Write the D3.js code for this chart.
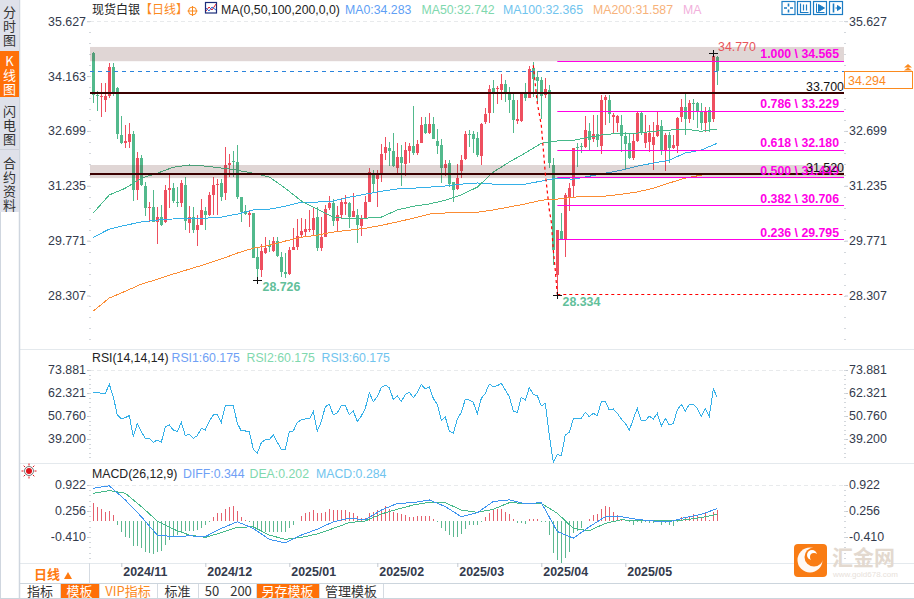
<!DOCTYPE html>
<html>
<head>
<meta charset="utf-8">
<script src="https://cdnjs.cloudflare.com/ajax/libs/d3/7.8.5/d3.min.js"></script>
<style>
  html, body { margin: 0; padding: 0; background: #fff; }
  svg { display: block; }
  text { font-family: "Liberation Sans", Arial, sans-serif; }
  .cjk { font-family: "Noto Sans CJK SC", sans-serif; }
  .tab { writing-mode: vertical-rl; text-orientation: upright; letter-spacing: 1px; }
</style>
</head>
<body>
<svg id="chart" width="914" height="599"></svg>
<script>
// daily candles, oldest first
const opens = [
  34.78,33.65,33.60,33.52,33.63,34.40,33.84,32.59,32.37,32.40,
  32.61,31.12,31.97,31.23,30.64,30.67,30.27,30.40,30.27,31.12,
  31.17,30.80,30.77,31.25,30.24,30.40,30.05,30.18,30.56,30.45,
  30.99,31.25,31.31,31.04,31.79,31.89,31.87,30.93,30.56,30.45,
  30.51,29.33,28.98,29.44,29.65,29.49,29.76,29.33,28.93,28.88,
  29.52,29.60,29.92,30.00,30.05,30.05,30.40,29.57,29.86,30.64,
  30.77,30.29,30.45,30.75,30.77,30.40,30.45,30.16,30.37,30.80,
  31.57,31.41,31.57,32.11,32.24,32.16,31.71,32.00,31.81,32.16,
  32.29,32.11,32.37,32.88,32.64,32.88,32.43,32.32,31.71,31.84,
  31.33,31.15,31.63,31.95,32.61,32.61,32.51,32.03,32.93,33.17,
  33.84,33.81,33.79,33.95,33.73,33.52,32.96,32.96,33.71,33.57,
  34.38,34.13,34.06,33.65,33.79,31.79,28.85,30.02,29.81,30.93,
  31.23,32.27,32.29,32.27,32.69,32.48,32.61,32.29,33.52,33.52,
  33.07,32.91,32.85,32.56,32.37,31.97,32.43,33.17,32.37,32.40,
  32.32,32.56,32.83,32.19,32.59,32.24,32.29,33.07,33.33,33.01,
  33.44,33.44,33.20,32.91,33.25,33.01,34.67
];
const closes = [
  33.65,33.63,33.63,33.63,34.40,33.73,32.61,32.37,32.43,32.61,
  31.12,31.97,31.25,30.64,30.67,30.27,30.40,30.18,31.12,31.17,
  30.83,30.77,31.31,30.29,30.40,30.05,30.18,30.59,30.45,30.99,
  31.25,31.28,30.93,31.79,31.84,31.87,30.93,30.53,30.48,30.51,
  29.30,29.01,29.49,29.57,29.60,29.76,29.36,28.93,28.88,29.52,
  29.60,29.89,30.02,30.08,30.08,30.37,29.57,29.86,30.61,30.77,
  30.29,30.45,30.80,30.80,30.40,30.56,30.18,30.37,30.80,31.60,
  31.28,31.52,32.08,32.27,32.16,31.76,32.00,31.84,32.19,32.29,
  32.11,32.35,32.85,32.64,32.88,32.48,32.29,31.71,31.81,31.28,
  31.12,31.44,31.92,32.61,32.59,32.48,32.05,32.88,33.15,33.81,
  33.73,33.84,33.95,33.71,33.52,32.99,33.01,33.71,33.57,34.35,
  34.08,34.03,33.63,33.81,31.84,29.52,30.05,29.78,30.99,31.17,
  32.24,32.24,32.27,32.72,32.45,32.61,32.45,33.52,33.60,33.15,
  33.12,33.09,32.56,32.35,31.97,32.43,33.17,32.64,32.64,32.64,
  32.53,32.85,32.19,32.59,32.24,32.32,33.04,33.33,33.01,33.44,
  33.41,33.23,32.91,33.23,32.93,34.70,34.29
];
const highs = [
  34.80,33.76,33.97,33.97,34.51,34.51,33.87,33.09,32.85,32.91,
  32.69,32.13,32.05,31.33,30.80,31.12,30.67,30.72,31.25,31.55,
  31.31,31.20,31.39,31.47,30.69,30.67,30.45,30.88,30.67,31.07,
  31.47,31.41,31.41,32.27,32.08,32.16,32.32,30.93,30.72,30.56,
  30.51,29.57,29.68,29.86,29.78,29.86,29.86,29.46,29.44,29.60,
  30.10,30.35,30.37,30.35,30.59,30.64,30.67,30.40,30.72,30.96,
  30.88,30.69,30.91,30.99,30.80,31.04,30.61,30.45,30.96,31.71,
  31.65,31.65,32.35,32.53,32.40,32.64,32.37,32.32,32.40,32.37,
  33.36,32.45,33.07,33.07,33.17,33.07,32.75,32.48,31.92,31.92,
  31.33,31.81,32.05,32.69,32.72,32.69,32.67,32.91,33.31,33.92,
  34.06,33.89,34.22,34.06,33.87,33.71,33.52,33.73,33.97,34.43,
  34.54,34.30,34.13,34.11,33.92,31.97,30.05,30.51,31.04,31.31,
  32.24,32.37,32.37,33.09,32.91,33.12,33.12,33.65,33.65,33.65,
  33.17,33.12,33.12,32.67,32.64,32.64,33.20,33.20,33.12,32.85,
  32.93,33.20,32.99,32.64,32.67,32.59,33.07,33.55,33.68,33.52,
  33.55,33.47,33.44,33.33,33.33,34.77,34.70
];
const lows = [
  33.44,33.23,33.07,33.20,33.57,33.63,32.48,32.35,32.24,32.24,
  30.83,30.85,31.23,30.43,30.27,30.27,29.68,30.16,30.24,30.64,
  30.77,30.67,30.67,30.05,29.97,29.97,29.62,30.18,30.05,30.43,
  30.45,30.45,30.83,30.85,31.47,31.47,30.88,30.27,30.45,30.13,
  29.30,28.73,28.80,29.41,29.46,29.46,29.33,28.80,28.77,28.85,
  29.52,29.52,29.86,29.89,30.00,29.89,29.49,29.49,29.86,30.59,
  30.16,30.00,30.35,30.45,30.10,30.40,29.70,29.89,30.37,30.80,
  31.04,30.67,31.33,31.92,31.76,31.73,31.52,31.23,31.49,31.84,
  32.05,32.05,32.37,32.61,32.61,32.48,32.08,31.31,31.49,31.20,
  30.80,31.12,31.44,31.92,32.27,32.11,32.00,31.79,32.88,32.91,
  33.17,33.41,33.52,33.47,33.17,32.64,32.88,32.93,33.49,33.57,
  33.60,33.47,33.01,33.57,31.71,29.12,28.33,29.78,29.33,30.56,
  30.91,31.73,32.11,32.24,32.19,32.40,32.27,32.08,32.85,32.91,
  32.64,32.67,32.13,31.65,31.95,31.92,32.40,32.59,32.24,32.13,
  31.65,32.53,32.05,31.63,31.84,32.21,32.11,32.93,32.59,32.91,
  32.99,32.77,32.72,32.67,32.67,32.93,33.92
];

// moving averages, read every fourth candle
const maIndex = d3.range(0, 157, 4);
const ma50 = [30.51,30.99,31.17,31.44,31.57,31.73,31.79,31.76,31.71,31.65,31.57,31.47,31.17,30.83,30.61,30.40,30.35,30.37,30.40,30.59,30.69,30.75,30.85,30.99,31.20,31.60,31.87,32.11,32.37,32.43,32.45,32.53,32.61,32.63,32.64,32.69,32.72,32.75,32.69,32.75];
const ma100 = [29.86,30.08,30.18,30.27,30.32,30.35,30.37,30.37,30.40,30.48,30.59,30.61,30.69,30.80,30.80,30.83,30.93,31.01,31.09,31.15,31.17,31.20,31.23,31.28,31.31,31.28,31.28,31.28,31.36,31.44,31.41,31.49,31.57,31.65,31.76,31.84,31.92,32.11,32.19,32.37];
const ma200 = [27.89,28.24,28.42,28.61,28.74,28.88,29.01,29.14,29.28,29.44,29.57,29.65,29.76,29.86,29.92,30.00,30.05,30.10,30.18,30.27,30.37,30.48,30.51,30.51,30.53,30.59,30.67,30.75,30.85,30.88,30.93,30.96,30.96,31.01,31.07,31.17,31.31,31.44,31.52,31.57];

const rsi = [
  62.65,62.65,62.15,62.15,66.68,60.48,51.27,49.26,49.93,50.93,
  40.38,47.08,42.89,39.54,39.54,37.53,38.70,37.53,45.40,46.24,
  43.73,42.89,47.58,40.88,41.55,39.54,40.88,44.57,43.73,48.25,
  51.27,51.60,47.58,55.79,56.12,56.12,47.08,43.23,43.23,42.89,
  34.18,32.00,37.36,38.87,38.87,41.22,37.53,34.01,34.01,42.89,
  43.23,47.58,48.75,49.26,49.26,52.94,43.23,47.92,55.45,56.63,
  51.27,52.44,55.95,56.12,51.27,53.28,47.92,50.76,54.62,62.49,
  57.97,60.48,65.00,66.34,65.00,59.14,60.98,57.97,61.65,62.65,
  59.97,62.49,66.68,64.33,65.50,59.64,56.63,48.58,50.26,43.23,
  42.05,49.26,52.60,59.14,58.80,57.63,51.77,59.64,62.15,66.84,
  65.50,66.00,67.18,63.83,60.48,53.28,52.60,60.14,58.80,65.00,
  61.65,60.98,55.79,57.13,41.22,27.48,31.50,30.83,41.22,42.55,
  49.26,49.59,49.59,52.60,50.43,52.10,50.93,57.97,57.97,53.78,
  54.28,52.10,49.26,47.08,43.56,49.26,54.62,48.25,48.25,50.76,
  49.26,52.10,45.74,49.59,46.24,47.08,53.78,56.63,53.28,56.63,
  56.63,54.62,50.60,54.28,50.60,64.33,60.18
];

const macdBars = [
  .45,.37,.30,.24,.26,.15,-.10,-.27,-.42,-.44,
  -.63,-.64,-.70,-.79,-.83,-.85,-.80,-.76,-.61,-.49,
  -.40,-.36,-.27,-.25,-.25,-.25,-.23,-.19,-.10,-.02,
  .09,.20,.21,.31,.37,.38,.26,.11,.03,-.03,
  -.13,-.21,-.25,-.27,-.27,-.27,-.27,-.27,-.27,-.19,
  -.10,-.01,.14,.20,.24,.28,.21,.20,.24,.32,
  .28,.28,.28,.28,.24,.21,.13,.07,.07,.21,
  .24,.28,.32,.38,.30,.22,.20,.17,.15,.11,
  .11,.13,.13,.13,.13,.04,-.03,-.19,-.26,-.36,
  -.40,-.40,-.33,-.21,-.09,-.10,-.10,-.02,.11,.21,
  .28,.30,.30,.24,.18,.04,-.06,-.06,-.08,.04,
  .05,.05,-.02,-.02,-.36,-.83,-1.00,-1.07,-.96,-.79,
  -.32,-.25,-.19,-.01,.04,.15,.18,.30,.38,.35,
  .24,.15,.04,.03,-.03,-.09,-.02,-.06,-.03,-.04,
  -.06,-.03,-.10,-.06,-.09,-.12,-.03,.09,.09,.13,
  .18,.15,.09,.20,.03,.24,.28
];
const diff = [.84,.90,.54,.11,-.36,-.40,-.38,-.40,-.19,-.02,-.19,-.47,-.56,-.36,-.21,-.02,.07,.03,.28,.45,.47,.54,.37,.11,.21,.50,.54,.44,.47,-.27,-.44,-.15,.11,.11,.04,.00,-.02,.09,.17,.32];
const dea = [.71,.78,.71,.37,.00,-.21,-.36,-.42,-.30,-.16,-.15,-.36,-.47,-.42,-.33,-.19,-.04,.00,.18,.30,.41,.48,.47,.28,.22,.30,.47,.45,.45,.20,-.19,-.25,-.06,.03,.01,.00,.00,.03,.09,.17];

// axis labels
const priceTicks = [35.627, 34.163, 32.699, 31.235, 29.771, 28.307];
const rsiTicks = [73.881, 62.321, 50.76, 39.2];
const macdTicks = [0.922, 0.256, -0.41];
const monthIndex = [7, 28, 49, 71, 91, 112, 133];
const monthLabels = ["2024/11", "2024/12", "2025/01", "2025/02", "2025/03", "2025/04", "2025/05"];

// drawn objects on the price panel
const fibRatios = ["1.000", "0.786", "0.618", "0.500", "0.382", "0.236"];
const fibPrices = [34.565, 33.229, 32.18, 31.4495, 30.706, 29.795];
const fibLabels = ["34.565", "33.229", "32.180", "31.449", "30.706", "29.795"];
const levelPrices = [33.70, 31.55];
const levelLabels = ["33.700", "31.520"];
const bandTops = [34.94, 31.79];
const bandBottoms = [34.56, 31.44];
const swingIndex = [110, 111, 112, 113, 114, 114.5, 115, 115.5, 116];
const swingPrices = [34.45, 33.44, 32.85, 31.57, 30.59, 30.27, 29.52, 28.98, 28.334];
const lastPrice = 34.294;

const RED = "#ee4f5f", GREEN = "#52b98c", BLUE_LINE = "#35b0e8", ORANGE = "#fb8c34";
const PLOT_L = 90, PLOT_R = 845;

const svg = d3.select("#chart");
const x = d3.scaleLinear().domain([0, 156]).range([93.3, 717.3]);
const yPrice = d3.scaleLinear().domain([34.565, 28.334]).range([61, 294.5]);
const yRsi = d3.scaleLinear().domain([73.881, 39.2]).range([370, 439]);
const yMacd = d3.scaleLinear().domain([0.922, -0.41]).range([485, 537]);
const snap = v => Math.floor(v) + 0.5;

// ---------- frame ----------
svg.append("rect").attr("width", 914).attr("height", 599).attr("fill", "#fff");
const frame = svg.append("g").attr("stroke", "#e4e9ed");
[349, 463, 563].forEach(y => frame.append("line").attr("x1", 20).attr("x2", 914).attr("y1", y + 0.5).attr("y2", y + 0.5));
frame.append("line").attr("x1", 19.5).attr("x2", 19.5).attr("y1", 0).attr("y2", 599).attr("stroke", "#cfd6df").attr("stroke-width", 1.5);
frame.append("line").attr("x1", 0.5).attr("x2", 0.5).attr("y1", 212).attr("y2", 599).attr("stroke", "#cfd6df");
frame.append("line").attr("x1", 20).attr("x2", 914).attr("y1", 583.5).attr("y2", 583.5).attr("stroke", "#ccd5dd");
frame.append("line").attr("x1", 0).attr("x2", 914).attr("y1", 598.5).attr("y2", 598.5).attr("stroke", "#ccd5dd");
frame.append("line").attr("x1", 89.5).attr("x2", 89.5).attr("y1", 563).attr("y2", 583).attr("stroke", "#d5dbe2");

// dashed top lines of the panels
[yPrice(35.627), yRsi(73.881), yMacd(0.922)].forEach(y => {
  svg.append("line").attr("x1", PLOT_L).attr("x2", PLOT_R).attr("y1", snap(y)).attr("y2", snap(y))
    .attr("stroke", "#e8eaec").attr("stroke-dasharray", "4,3");
});

// ---------- axes ----------
function priceAxis(scale, ticks, minorStep, yEnd) {
  const fmt = d => d.toFixed(3);
  [[d3.axisLeft, PLOT_L], [d3.axisRight, PLOT_R]].forEach(([maker, pos]) => {
    const g = svg.append("g").attr("transform", `translate(${pos},0)`)
      .call(maker(scale).tickValues(ticks).tickFormat(fmt).tickSize(3).tickPadding(1));
    g.select(".domain").remove();
    g.selectAll("line").attr("stroke", "#c3c9d0");
    g.selectAll("text").attr("font-size", 12.4).attr("fill", "#333a4c");
    // small dotted marks between the labelled ticks
    let v = ticks[0], minor = [];
    while (scale(v) <= yEnd) { minor.push(v); v -= minorStep; }
    g.selectAll(".minor").data(minor).enter().append("rect").attr("class", "minor")
      .attr("x", -1).attr("width", 2).attr("height", 1).attr("y", d => Math.round(scale(d))).attr("fill", "#d3d7dc");
  });
}
priceAxis(yPrice, priceTicks, 0.2928, 342);
priceAxis(yRsi, rsiTicks, 2.312, 460);
priceAxis(yMacd, macdTicks, 0.1332, 561);

const xAxis = svg.append("g").attr("transform", "translate(0,563)")
  .call(d3.axisBottom(x).tickValues(monthIndex).tickFormat((d, i) => monthLabels[i]).tickSize(4));
xAxis.select(".domain").remove();
xAxis.selectAll("line").attr("stroke", "#c3c9d0");
xAxis.selectAll("text").attr("text-anchor", "start").attr("x", 1.5).attr("y", 4)
  .attr("font-size", 12.4).attr("font-weight", "bold").attr("fill", "#333a4c");

// ---------- candles ----------
const idx = d3.range(opens.length);
const candles = svg.append("g").attr("shape-rendering", "crispEdges");
candles.selectAll(".wick").data(idx).enter().append("rect").attr("class", "wick")
  .attr("x", i => Math.floor(x(i))).attr("width", 1)
  .attr("y", i => yPrice(highs[i]))
  .attr("height", i => yPrice(lows[i]) - yPrice(highs[i]))
  .attr("fill", i => closes[i] >= opens[i] ? RED : GREEN);
candles.selectAll(".body").data(idx).enter().append("rect").attr("class", "body")
  .attr("x", i => Math.floor(x(i)) - 1).attr("width", 3)
  .attr("y", i => yPrice(Math.max(opens[i], closes[i])))
  .attr("height", i => Math.max(1, Math.abs(yPrice(opens[i]) - yPrice(closes[i]))))
  .attr("fill", i => closes[i] >= opens[i] ? RED : GREEN);

// ---------- moving averages ----------
function drawLine(xs, ys, scale, color, width) {
  const line = d3.line().x(d => x(d[0])).y(d => scale(d[1]));
  return svg.append("path").datum(d3.zip(xs, ys)).attr("d", line)
    .attr("fill", "none").attr("stroke", color).attr("stroke-width", width || 1)
    .attr("shape-rendering", "crispEdges");
}
drawLine(maIndex, ma200, yPrice, ORANGE, 1);
drawLine(maIndex, ma100, yPrice, BLUE_LINE, 1);
drawLine(maIndex, ma50, yPrice, "#46b98a", 1);

// ---------- gray zones and levels ----------
bandTops.forEach((top, i) => {
  svg.append("rect").attr("x", PLOT_L).attr("width", PLOT_R - PLOT_L - 1)
    .attr("y", yPrice(top)).attr("height", yPrice(bandBottoms[i]) - yPrice(top))
    .attr("fill", "rgb(100,50,45)").attr("opacity", 0.2);
});

svg.append("line").attr("x1", PLOT_L).attr("x2", PLOT_R - 1)
  .attr("y1", snap(yPrice(lastPrice))).attr("y2", snap(yPrice(lastPrice)))
  .attr("stroke", "#2b84dc").attr("stroke-dasharray", "4,4");

levelPrices.forEach(p => {
  const ly = Math.round(yPrice(p));
  svg.append("line").attr("x1", PLOT_L).attr("x2", PLOT_R - 1).attr("y1", ly).attr("y2", ly)
    .attr("stroke", "#3a0000").attr("stroke-width", 2);
});

// ---------- fibonacci ----------
const fibX = x(116);
fibPrices.forEach((p, i) => {
  svg.append("line").attr("x1", fibX).attr("x2", PLOT_R - 1).attr("y1", snap(yPrice(p))).attr("y2", snap(yPrice(p)))
    .attr("stroke", "#ff00e6");
  svg.append("text").attr("x", 839).attr("y", yPrice(p) - 3).attr("text-anchor", "end")
    .attr("font-size", 12.3).attr("font-weight", "bold").attr("fill", "#ff00e6")
    .text(`${fibRatios[i]} \\ ${fibLabels[i]}`);
});
levelPrices.forEach((p, i) => {
  svg.append("text").attr("x", 844).attr("y", yPrice(p) - 2).attr("text-anchor", "end")
    .attr("font-size", 12.4).attr("fill", "#111").text(levelLabels[i]);
});
drawLine(swingIndex, swingPrices, yPrice, "#f00", 1.2).attr("stroke-dasharray", "3,3").attr("shape-rendering", "auto");
svg.append("line").attr("x1", fibX).attr("x2", PLOT_R - 1)
  .attr("y1", snap(yPrice(28.334))).attr("y2", snap(yPrice(28.334)))
  .attr("stroke", "#f00").attr("stroke-dasharray", "3,3");

// high / low marks
function crossMark(i, price) {
  const cx = Math.floor(x(i)), cy = Math.round(yPrice(price));
  svg.append("path").attr("d", `M${cx - 4},${cy + 0.5}H${cx + 5}M${cx + 0.5},${cy - 3}V${cy + 4}`)
    .attr("stroke", "#111").attr("fill", "none");
}
crossMark(155, 34.77);
crossMark(41, 28.726);
crossMark(116, 28.334);
svg.append("text").attr("x", 718).attr("y", 51).attr("font-size", 12.4).attr("fill", "#e8555a").text("34.770");
svg.append("text").attr("x", 262.5).attr("y", 290.5).attr("font-size", 12.4).attr("font-weight", "bold").attr("fill", "#62bf9a").text("28.726");
svg.append("text").attr("x", 562.5).attr("y", 306).attr("font-size", 12.4).attr("font-weight", "bold").attr("fill", "#62bf9a").text("28.334");

// last price tag over the right axis
svg.append("rect").attr("x", 844.5).attr("y", 71.5).attr("width", 68).attr("height", 17)
  .attr("fill", "#fff").attr("stroke", "#fb8a1e");
svg.append("text").attr("x", 848).attr("y", 84.5).attr("font-size", 12.4).attr("fill", "#fb8a1e").text(lastPrice.toFixed(3));
svg.append("path").attr("d", "M908,64l4,3.5h-8zM908,67.5l4,3h-8z").attr("fill", "#fb8a1e");

// ---------- RSI ----------
drawLine(idx, rsi, yRsi, BLUE_LINE, 1);

// ---------- MACD ----------
svg.append("g").attr("shape-rendering", "crispEdges").selectAll("rect").data(macdBars).enter().append("rect")
  .attr("x", (d, i) => Math.floor(x(i))).attr("width", 1)
  .attr("y", d => yMacd(Math.max(d, 0)))
  .attr("height", d => Math.abs(yMacd(d) - yMacd(0)))
  .attr("fill", d => d >= 0 ? "#e4606d" : "#5cb890");
drawLine(maIndex, dea, yMacd, "#46b98a", 1);
drawLine(maIndex, diff, yMacd, "#3d94f0", 1);

// ---------- legends ----------
function legend(items, y) {
  items.forEach(([label, xPos, color, cls]) => {
    svg.append("text").attr("x", xPos).attr("y", y).attr("font-size", cls ? 12 : 12.3)
      .attr("class", cls || null).attr("fill", color).text(label);
  });
}
legend([
  ["现货白银", 92, "#222", "cjk"],
  ["【日线】", 140, "#fb8a1e", "cjk"],
  ["MA(0,50,100,200,0,0)", 221, "#222"],
  ["MA0:34.283", 345, "#5f9ff5"],
  ["MA50:32.742", 421.5, "#7fd8ae"],
  ["MA100:32.365", 503, "#70c4ee"],
  ["MA200:31.587", 593, "#f7b27a"],
  ["MA", 683, "#f2b0dc"]
], 14);
legend([
  ["RSI(14,14,14)", 92, "#222"],
  ["RSI1:60.175", 171.5, "#6f9ff5"],
  ["RSI2:60.175", 246.5, "#7fd8ae"],
  ["RSI3:60.175", 321.5, "#70c4ee"]
], 362);
legend([
  ["MACD(26,12,9)", 92, "#222"],
  ["DIFF:0.344", 183, "#6f9ff5"],
  ["DEA:0.202", 249.5, "#7fd8ae"],
  ["MACD:0.284", 316, "#70c4ee"]
], 478);

// small header icons
const addr = svg.append("g").attr("fill", "none").attr("stroke", "#fb8a1e");
addr.append("circle").attr("cx", 192.5).attr("cy", 11).attr("r", 4);
addr.append("path").attr("d", "M187.5,11h10M192.5,6v10");
const maIcon = svg.append("g").attr("fill", "none");
maIcon.append("rect").attr("x", 205.5).attr("y", 2.5).attr("width", 11).attr("height", 10.5).attr("stroke", "#1c2d7a").attr("stroke-width", 1.2);
maIcon.append("path").attr("d", "M206,11l3,-4l3,3l4,-6").attr("stroke", "#e0202c");
maIcon.append("path").attr("d", "M206,8l3,3l3,-4l4,3").attr("stroke", "#2b6bd8");
[782, 797.5, 813.5, 829.5].forEach((bx, i) => {
  const g = svg.append("g").attr("transform", `translate(${bx},1.5)`).attr("fill", "none").attr("stroke", "#1c7cc4");
  g.append("rect").attr("width", 13).attr("height", 13).attr("stroke-width", 1.2);
  if (i === 0) {
    g.append("path").attr("d", "M6.5,2v3M6.5,8v3M2,6.5h3M8,6.5h3").attr("stroke-width", 1.6);
  } else if (i === 1) {
    g.append("path").attr("d", "M3,2v9h8M6,3v6M9,3v6").attr("stroke-width", 1.2);
  } else if (i === 2) {
    g.append("path").attr("d", "M3,2v9h8");
    g.append("path").attr("d", "M5,3l6,3.5l-6,3.5z").attr("fill", "#1c7cc4");
  } else {
    g.append("path").attr("d", "M4,2v9").attr("stroke-width", 1.6);
    g.append("path").attr("d", "M6,6.5h3M8,4l3.5,2.5l-3.5,2.5z").attr("fill", "#1c7cc4");
  }
});

// red marker left of the MACD panel
const sun = svg.append("g").attr("transform", "translate(29,471)");
sun.append("circle").attr("r", 3).attr("fill", "#e0141c");
sun.append("circle").attr("r", 4.5).attr("fill", "none").attr("stroke", "#222").attr("stroke-width", 0.6);
sun.selectAll("line").data(d3.range(8)).enter().append("line")
  .attr("x1", d => 5.5 * Math.cos(d * Math.PI / 4)).attr("y1", d => 5.5 * Math.sin(d * Math.PI / 4))
  .attr("x2", d => 7.5 * Math.cos(d * Math.PI / 4)).attr("y2", d => 7.5 * Math.sin(d * Math.PI / 4))
  .attr("stroke", "#e0141c");

// ---------- left tabs ----------
const tabs = svg.append("g");
tabs.append("rect").attr("width", 19).attr("height", 212).attr("fill", "#dfe1ea");
tabs.append("rect").attr("y", 51).attr("width", 19).attr("height", 46).attr("fill", "#ff7008");
[["分时图", 6, "#333"], ["K线图", 55, "#fff"], ["闪电图", 105, "#333"], ["合约资料", 157, "#333"]]
  .forEach(([label, y, color]) => tabs.append("text").attr("class", "cjk tab").attr("x", 9.5).attr("y", y)
    .attr("font-size", 13).attr("fill", color).text(label));
tabs.append("line").attr("x1", 0).attr("x2", 19).attr("y1", 149.5).attr("y2", 149.5).attr("stroke", "#cdd0da");

// ---------- period box and toolbar ----------
svg.append("text").attr("class", "cjk").attr("x", 34).attr("y", 579).attr("font-size", 13).attr("font-weight", "bold")
  .attr("fill", "#ff7a10").text("日线");
svg.append("path").attr("d", "M64,579l4,-7l4,7z").attr("fill", "#ff7a10");

const toolbarLabels = ["指标", "模板", "VIP指标", "标准", "50", "200", "另存模板", "管理模板"];
const toolbarX = [20, 60, 99, 157, 198, 226, 256, 319];
const toolbarW = [40, 39, 58, 41, 28, 30, 63, 64];
const toolbarOn = [false, true, false, false, false, false, true, false];
toolbarLabels.forEach((label, i) => {
  if (toolbarOn[i]) {
    svg.append("rect").attr("x", toolbarX[i]).attr("y", 584).attr("width", toolbarW[i]).attr("height", 14).attr("fill", "#ff7008");
  }
  svg.append("text").attr("class", "cjk").attr("x", toolbarX[i] + toolbarW[i] / 2).attr("y", 595.5).attr("text-anchor", "middle")
    .attr("font-size", 13).attr("fill", toolbarOn[i] ? "#fff" : (i === 2 ? "#fb8a1e" : "#333")).text(label);
});
[60, 99, 157, 198, 256, 319, 383].forEach(sx => {
  svg.append("line").attr("x1", sx + 0.5).attr("x2", sx + 0.5).attr("y1", 584).attr("y2", 598).attr("stroke", "#d5dbe2");
});

// ---------- watermark ----------
const mark = svg.append("g");
mark.append("rect").attr("x", 794).attr("y", 544).attr("width", 33).attr("height", 33).attr("rx", 4).attr("fill", "#f97c14");
mark.append("circle").attr("cx", 810).attr("cy", 560).attr("r", 12.5).attr("fill", "#fff").attr("opacity", 0.95);
mark.append("circle").attr("cx", 814).attr("cy", 557).attr("r", 9.5).attr("fill", "#f97c14");
mark.append("circle").attr("cx", 812).attr("cy", 555).attr("r", 5).attr("fill", "#fff");
mark.append("circle").attr("cx", 814).attr("cy", 557).attr("r", 4).attr("fill", "#f97c14");
mark.append("text").attr("class", "cjk").attr("x", 832).attr("y", 565).attr("font-size", 21).attr("font-weight", "bold")
  .attr("fill", "#e3d9cf").text("汇金网");
mark.append("text").attr("x", 833).attr("y", 577).attr("font-size", 8).attr("fill", "#e8e1da").text("www.gold678.com");
</script>
</body>
</html>
